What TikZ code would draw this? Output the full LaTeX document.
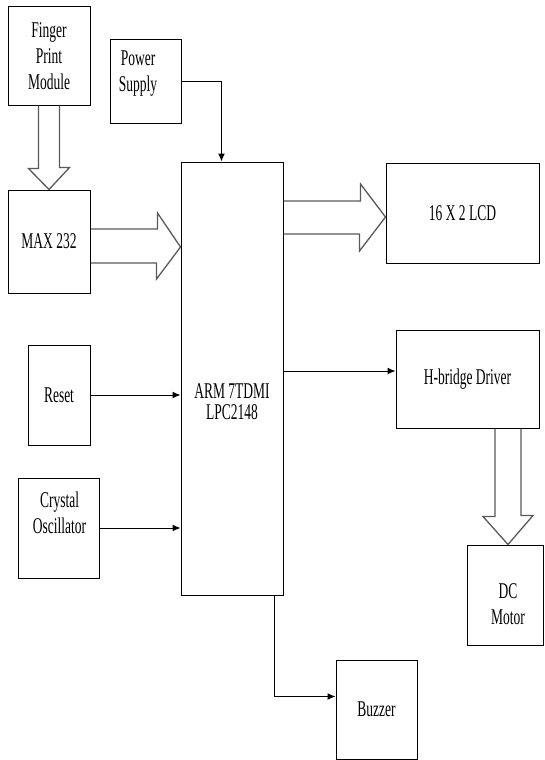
\documentclass[tikz,border=0pt]{standalone}
\usepackage{fontspec}
\setmainfont{Liberation Serif}[FakeStretch=0.6]
\usetikzlibrary{arrows.meta}

\tikzset{
  blk/.style={draw,line width=1pt,inner sep=0pt,align=center},
  txt/.style={inner sep=0pt,align=center},
  fat/.style={draw=black!65,line width=1.3pt,line join=miter},
  sig/.style={line width=1pt,-{Latex[length=8pt,width=7pt]}},
}

\begin{document}
\begin{tikzpicture}[x=1pt,y=-1pt,font=\fontsize{22.5}{26}\selectfont]
  \useasboundingbox (0,0) rectangle (544,760);
  \node[blk,minimum width=82pt,minimum height=98pt] (fpm) at (49,56) {Finger\\Print\\Module};
  \node[blk,minimum width=71pt,minimum height=83pt] (pwr) at (145.5,81.5) {};
  \node[txt] (pwrtxt) at (138,74) {Power\\Supply};
  \node[blk,minimum width=82pt,minimum height=103pt] (max) at (49,241.5) {MAX 232};
  \node[blk,minimum width=102pt,minimum height=433pt] (arm) at (232,378.5) {};
  \node[txt] (armtxt) at (232,402) {ARM 7TDMI\\[-5pt]LPC2148};
  \node[blk,minimum width=153pt,minimum height=100pt] (lcd) at (462.5,213) {16 X 2 LCD};
  \node[blk,minimum width=143pt,minimum height=98pt] (hbr) at (467.5,379) {H-bridge Driver};
  \node[blk,minimum width=76.5pt,minimum height=100pt] (dcm) at (505.25,595) {};
  \node[txt] (dcmtxt) at (508,604.5) {DC\\Motor};
  \node[blk,minimum width=81pt,minimum height=99pt] (buz) at (376.5,709.5) {Buzzer};
  \node[blk,minimum width=62pt,minimum height=100pt] (rst) at (59,395) {Reset};
  \node[blk,minimum width=81pt,minimum height=100pt] (xtl) at (58.5,528) {};
  \node[txt] (xtltxt) at (59.5,513) {Crystal\\Oscillator};

  \draw[fat] ([xshift=-10.5pt]fpm.south) -- ++(0,63) -- ++(-10,0) -- (max.north)
    -- ++(20.5,-22) -- ++(-10,0) -- ([xshift=10.5pt]fpm.south);
  \draw[fat] ([yshift=12.5pt]max.east) -- ++(67,0) -- ++(0,-16) -- ([yshift=-5.5pt]max.east -| arm.west)
    -- ++(-24,32) -- ++(0,-16) -- ([yshift=-21.5pt]max.east);
  \draw[fat] ([yshift=12pt]lcd.west -| arm.east) -- ++(77,0) -- ++(0,-17) -- ([yshift=-4pt]lcd.west)
    -- ++(-26,34) -- ++(0,-17) -- ([yshift=-21pt]lcd.west -| arm.east);
  \draw[fat] ([xshift=27.5pt]hbr.south) -- ++(0,88) -- ++(-12,0) -- ([xshift=2.75pt]dcm.north)
    -- ++(25,-29) -- ++(-12,0) -- ([xshift=53.5pt]hbr.south);

  \draw[sig] (pwr.east) -| ([xshift=41pt]arm.north west);
  \draw[sig] (rst.east) -- (rst.east -| arm.west);
  \draw[sig] (xtl.east) -- (xtl.east -| arm.west);
  \draw[sig] ([yshift=8pt]hbr.west -| arm.east) -- ([yshift=8pt]hbr.west);
  \draw[sig] ([xshift=-9pt]arm.south east) |- ([yshift=13pt]buz.west);
\end{tikzpicture}
\end{document}
